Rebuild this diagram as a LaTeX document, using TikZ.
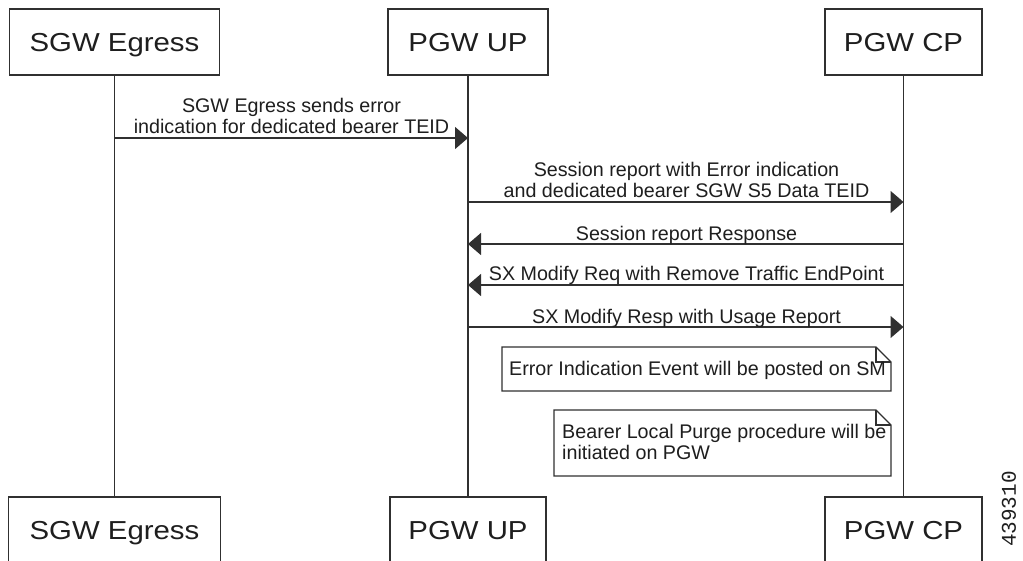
\documentclass[tikz,border=0pt]{standalone}
\usepackage{fontspec}
\setmainfont{Liberation Sans}
\newfontfamily\boxfont[FakeStretch=1.13]{Liberation Sans}
\newfontfamily\idfont{Liberation Mono}
\usetikzlibrary{arrows.meta}
\definecolor{linec}{HTML}{303030}
\definecolor{textc}{HTML}{1E1E1E}
\newcommand\centerlines[3]{\vbox{\baselineskip=#1\lineskiplimit=-20pt\halign{\hfil##\hfil\cr #2\cr #3\cr}}}
\newcommand\leftlines[3]{\vbox{\baselineskip=#1\lineskiplimit=-20pt\halign{##\hfil\cr #2\cr #3\cr}}}
\begin{document}
\begin{tikzpicture}[x=1pt,y=-1pt,
  actor/.style={draw=linec, line width=1.4pt, fill=white, inner sep=0pt,
    minimum height=66pt, text height=18pt, text depth=0pt, text=textc,
    font=\boxfont\fontsize{26}{30}\selectfont},
  life/.style={draw=linec, line width=1.4pt},
  msg/.style={draw=linec, line width=1.4pt, -{Triangle[length=13pt,width=22pt]}},
  lbl/.style={inner sep=0pt, anchor=base, text=textc, font=\fontsize{19.7}{21}\selectfont},
  notebox/.style={draw=linec, line width=1.4pt, fill=white},
  notetext/.style={inner sep=0pt, anchor=base west, text=textc, font=\fontsize{19.7}{21}\selectfont}]
\useasboundingbox (0,0) rectangle (1023,560);
\clip (0,0) rectangle (1023,560);

% actors
\node[actor, minimum width=210pt] (sgwT) at (114.5,42) {SGW Egress};
\node[actor, minimum width=160pt] (pupT) at (468,42) {PGW UP};
\node[actor, minimum width=157pt] (pcpT) at (903.5,42) {PGW CP};
\node[actor, minimum width=212pt] (sgwB) at (114.5,530) {SGW Egress};
\node[actor, minimum width=156pt] (pupB) at (468,530) {PGW UP};
\node[actor, minimum width=157pt] (pcpB) at (903.5,530) {PGW CP};

% lifelines
\draw[life] (sgwT.south) -- (sgwB.north);
\draw[life] (pupT.south) -- (pupB.north);
\draw[life] (pcpT.south) -- (pcpB.north);

% message rows
\coordinate (y1) at (0,138);
\coordinate (y2) at (0,202);
\coordinate (y3) at (0,244);
\coordinate (y4) at (0,285);
\coordinate (y5) at (0,327);

\draw[msg] (sgwT |- y1) -- (pupT |- y1);
\node[lbl] (l1) at (291.5,133) {\centerlines{20.5pt}{SGW Egress sends error}{indication for dedicated bearer TEID}};

\draw[msg] (pupT |- y2) -- (pcpT |- y2);
\node[lbl] (l2) at (686.5,197) {\centerlines{20.5pt}{Session report with Error indication}{and dedicated bearer SGW S5 Data TEID}};

\draw[msg] (pcpT |- y3) -- (pupT |- y3);
\node[lbl] (l3) at (686.5,240.5) {Session report Response};

\draw[msg] (pcpT |- y4) -- (pupT |- y4);
\node[lbl] (l4) at (686.5,280.5) {SX Modify Req with Remove Traffic EndPoint};

\draw[msg] (pupT |- y5) -- (pcpT |- y5);
\node[lbl] (l5) at (686.5,323) {SX Modify Resp with Usage Report};

% notes
\draw[notebox] (502,347) -- (876,347) -- (891,362) -- (891,391) -- (502,391) -- cycle;
\draw[linec, line width=1.1pt] (876,347) -- (876,362) -- (891,362);
\node[notetext] (n1) at (509,375) {Error Indication Event will be posted on SM};

\draw[notebox] (554,410) -- (876,410) -- (891,425) -- (891,476) -- (554,476) -- cycle;
\draw[linec, line width=1.1pt] (876,410) -- (876,425) -- (891,425);
\node[notetext] (n2) at (562,459) {\leftlines{21pt}{Bearer Local Purge procedure will be}{initiated on PGW}};

% figure id
\node[inner sep=0pt, rotate=90, text=textc, font=\idfont\fontsize{21}{24}\selectfont] (fid) at (1009,509) {439310};
\end{tikzpicture}
\end{document}
